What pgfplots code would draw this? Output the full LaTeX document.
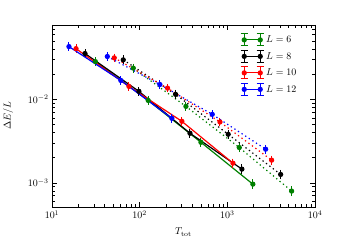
\documentclass[border=0pt]{standalone}
\usepackage{pgfplots}
\pgfplotsset{compat=1.18}
\definecolor{mgreen}{rgb}{0,0.5,0}
\pgfplotsset{
  errleg/.style={
    legend image code/.code={
      \draw[##1] plot coordinates {(0bp,0bp) (16bp,0bp)};
      \draw[##1, mark=none, solid, line width=1pt]
        (0bp,-6bp) -- (0bp,6bp) (-3.5bp,-6bp) -- (3.5bp,-6bp) (-3.5bp,6bp) -- (3.5bp,6bp)
        (16bp,-6bp) -- (16bp,6bp) (12.5bp,-6bp) -- (19.5bp,-6bp) (12.5bp,6bp) -- (19.5bp,6bp);
    }
  },
  sol/.style={color=#1, solid, line width=1.2pt, mark=*, mark size=2bp,
    mark options={solid, fill=#1},
    error bars/.cd, y dir=both, y explicit relative,
    error bar style={line width=1pt, solid},
    error mark options={mark size=3.2bp, line width=1pt, solid}},
  dots/.style={color=#1, line width=1.2pt, dash pattern=on 1.3bp off 3bp, mark=*, mark size=2bp,
    mark options={solid, fill=#1}, forget plot,
    error bars/.cd, y dir=both, y explicit relative,
    error bar style={line width=1pt, solid},
    error mark options={mark size=3.2bp, line width=1pt, solid}},
}
\begin{document}
\begin{tikzpicture}
\useasboundingbox (0,0) rectangle (350bp,250bp);
\begin{axis}[
  at={(52bp,43bp)}, anchor=south west,
  scale only axis, width=263bp, height=182bp,
  xmode=log, ymode=log,
  xmin=10, xmax=1e4, ymin=5.13e-4, ymax=0.078,
  axis line style={line width=0.8pt},
  major tick length=5bp, minor tick length=3bp,
  every tick/.style={line width=0.6pt, black},
  xlabel={$T_{\rm tot}$},
  ylabel={$\Delta E/L$},
  xlabel style={at={(axis description cs:0.5,-0.137)}, anchor=center},
  ylabel style={at={(axis description cs:-0.167,0.5)}, anchor=center},
  errleg,
  legend cell align=left,
  legend style={at={(rel axis cs:0.715,0.955)}, anchor=north west, draw=none, fill=none,
    inner sep=0pt, row sep=3.5bp, nodes={inner sep=2bp}},
]
% solid series
\addplot[sol=mgreen] coordinates {
 (31.25,0.0284) +- (0,0.035)
 (125,0.00973) +- (0,0.035)
 (500,0.00306) +- (0,0.04)
 (1955,0.000964) +- (0,0.05)
};
\addlegendentry{$L=6$}
\addplot[sol=black] coordinates {
 (23.8,0.0355) +- (0,0.035)
 (98,0.0125) +- (0,0.035)
 (375,0.00393) +- (0,0.04)
 (1466,0.00146) +- (0,0.05)
};
\addlegendentry{$L=8$}
\addplot[sol=red] coordinates {
 (18.8,0.0406) +- (0,0.03)
 (75.5,0.0143) +- (0,0.035)
 (303,0.00546) +- (0,0.035)
 (1159,0.00172) +- (0,0.04)
};
\addlegendentry{$L=10$}
\addplot[sol=blue] coordinates {
 (15.6,0.043) +- (0,0.03)
 (61,0.01687) +- (0,0.03)
 (233,0.00593) +- (0,0.035)
};
\addlegendentry{$L=12$}
% dotted series
\addplot[dots=mgreen] coordinates {
 (84.5,0.0237) +- (0,0.035)
 (337,0.00825) +- (0,0.035)
 (1368,0.00265) +- (0,0.04)
 (5410,0.000796) +- (0,0.05)
};
\addplot[dots=black] coordinates {
 (65,0.0298) +- (0,0.035)
 (257,0.01148) +- (0,0.035)
 (1023,0.00382) +- (0,0.035)
 (4055,0.00126) +- (0,0.04)
};
\addplot[dots=red] coordinates {
 (51.3,0.0315) +- (0,0.03)
 (208,0.01365) +- (0,0.03)
 (824,0.00536) +- (0,0.035)
 (3200,0.00187) +- (0,0.035)
};
\addplot[dots=blue] coordinates {
 (42.8,0.0327) +- (0,0.03)
 (170,0.0151) +- (0,0.03)
 (673,0.00662) +- (0,0.03)
 (2735,0.00253) +- (0,0.035)
};
\end{axis}
\end{tikzpicture}
\end{document}
